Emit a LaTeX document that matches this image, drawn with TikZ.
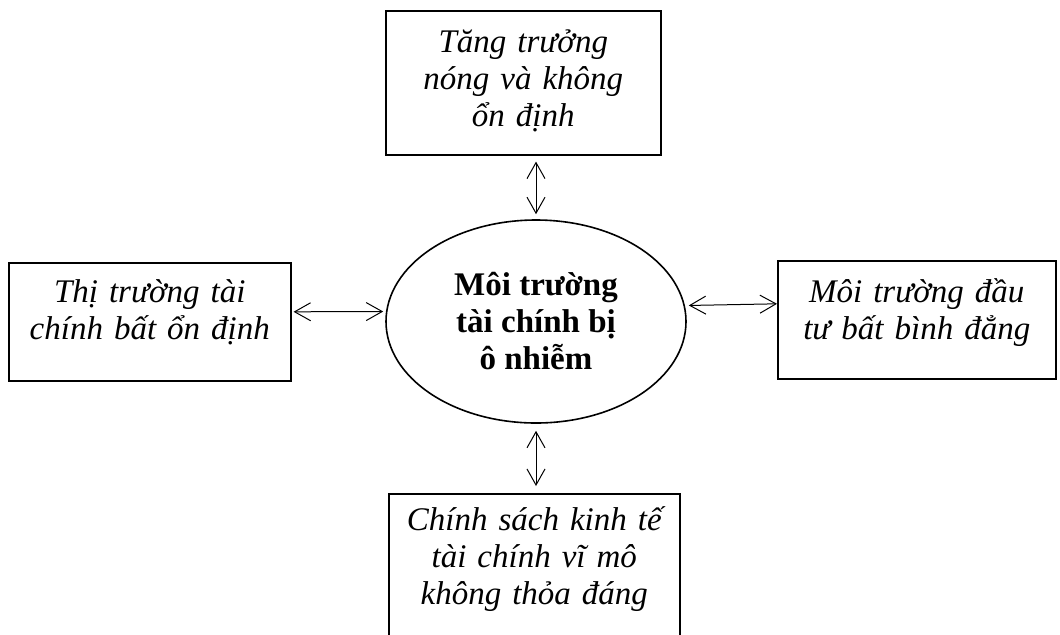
\documentclass[tikz,border=0pt]{standalone}
\usepackage{fontspec}
\setmainfont{Liberation Serif}
\usetikzlibrary{shapes.geometric,arrows.meta}
\begin{document}
\begin{tikzpicture}[x=0.5pt,y=-0.5pt]
  \tikzstyle{box}=[draw,rectangle,line width=0.8pt,inner sep=0pt,align=center,anchor=north west,
    execute at begin node={\lineskiplimit=-20pt},
    font=\fontsize{16.5}{18.5}\selectfont\itshape]
  \tikzstyle{core}=[draw,ellipse,line width=0.8pt,inner sep=0pt,align=center,
    minimum width=150pt,minimum height=101.5pt,
    execute at begin node={\lineskiplimit=-20pt},
    font=\fontsize{16.5}{18.5}\selectfont\bfseries]
  \tikzstyle{link}=[draw,line width=0.5pt,{Straight Barb[length=8pt,width=9pt]}-{Straight Barb[length=8pt,width=9pt]}]
  \useasboundingbox (0,0) rectangle (1060,634);
  % centre
  \node[core] (ell) at (536,321.5) {Môi trường\\ tài chính bị\\ ô nhiễm};
  % boxes
  \node[box,text width=137.5pt,text height=21pt,text depth=51pt] (top) at (385,10)
    {Tăng trưởng\\ nóng và không\\ ổn định};
  \node[box,text width=141pt,text height=20pt,text depth=39pt] (lft) at (8,262)
    {Thị trường tài\\ chính bất ổn định};
  \node[box,text width=139pt,text height=21pt,text depth=38pt] (rgt) at (777,260)
    {Môi trường đầu\\ tư bất bình đẳng};
  \node[box,text width=145.5pt,text height=18.5pt,text depth=80pt] (bot) at (388,493)
    {Chính sách kinh tế\\ tài chính vĩ mô\\ không thỏa đáng};
  % arrows
  \draw[link,shorten <=3pt,shorten >=2.5pt] (top.south -| ell.north) -- (ell.north);
  \draw[link,shorten <=1pt,shorten >=1pt] ([yshift=5pt]lft.east) -- ([yshift=5pt]ell.west);
  \draw[link,shorten <=1pt,shorten >=0pt] ([yshift=8pt]ell.east) -- ([yshift=8pt]rgt.west);
  \draw[link,shorten <=3.5pt,shorten >=3.5pt] (ell.south) -- (ell.south |- bot.north);
\end{tikzpicture}
\end{document}
